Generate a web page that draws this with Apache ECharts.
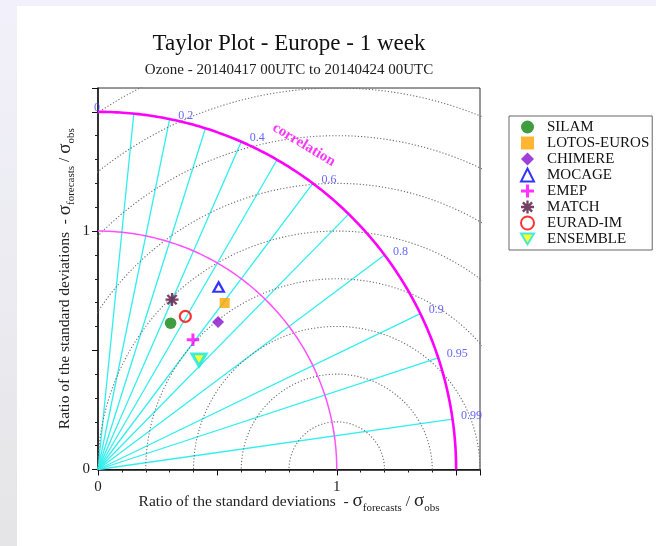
<!DOCTYPE html>
<html>
<head>
<meta charset="utf-8">
<script src="https://cdn.jsdelivr.net/npm/echarts@6/dist/echarts.min.js"></script>
<style>
  html, body { margin: 0; padding: 0; width: 656px; height: 546px; overflow: hidden;
    background: linear-gradient(to bottom, #f2f1fb, #e5e5e7); }
  #panel { position: absolute; left: 17px; top: 6px; right: 0; bottom: 0; background: #ffffff; }
  #chart { position: absolute; left: 0; top: 0; width: 656px; height: 546px; }
</style>
</head>
<body>
<div id="panel"></div>
<div id="chart"></div>
<script>
// Models shown in the diagram
const models = ['SILAM', 'LOTOS-EUROS', 'CHIMERE', 'MOCAGE', 'EMEP', 'MATCH', 'EURAD-IM', 'ENSEMBLE'];
// Ratio of standard deviations (sigma_forecast / sigma_obs) per model
const stdRatio = [0.685, 0.877, 0.797, 0.917, 0.674, 0.777, 0.739, 0.625];
// Correlation with observations per model
const correlation = [0.444, 0.605, 0.631, 0.551, 0.590, 0.399, 0.495, 0.677];

// Correlation rays and the labels written along the outer arc
const corrRays = [0.1, 0.2, 0.3, 0.4, 0.5, 0.6, 0.7, 0.8, 0.9, 0.95, 0.99];
const corrTickLabels = ['0.2', '0.4', '0.6', '0.8', '0.9', '0.95', '0.99'];
const corrZeroLabel = '0';
// Centred RMS difference circles (around the reference point 1,0)
const rmsRadii = [0.2, 0.4, 0.6, 0.8, 1.0, 1.2, 1.4, 1.6, 1.8];
// Std-ratio arcs around the origin
const refStd = 1.0;
const maxStd = 1.5;
// Axis labels shown
const axisTickLabels = ['0', '1'];

const SERIF = "'Liberation Serif', 'DejaVu Serif', 'Times New Roman', serif";

// polar (std ratio, correlation) -> cartesian
function toXY(s, c) {
  return [s * c, s * Math.sqrt(Math.max(0, 1 - c * c))];
}
function quarterArc(r, n) {
  const pts = [];
  for (let i = 0; i <= n; i++) {
    const t = (Math.PI / 2) * i / n;
    pts.push([r * Math.cos(t), r * Math.sin(t)]);
  }
  return pts;
}
function halfCircle(cx, r, n) {
  const pts = [];
  for (let i = 0; i <= n; i++) {
    const t = Math.PI * i / n;
    pts.push([cx + r * Math.cos(t), r * Math.sin(t)]);
  }
  return pts;
}

const series = [];

// correlation rays
corrRays.forEach(function (c) {
  series.push({
    type: 'line', silent: true, symbol: 'none', z: 1, clip: true,
    lineStyle: { color: '#33eeee', width: 1.3 },
    data: [[0, 0], toXY(maxStd, c)]
  });
});

// RMS difference circles
rmsRadii.forEach(function (r) {
  series.push({
    type: 'line', silent: true, symbol: 'none', z: 2, clip: true,
    lineStyle: { color: '#6e6e6e', width: 1.1, type: [1.2, 2] },
    data: halfCircle(1, r, 720)
  });
});

// std ratio arcs
series.push({
  type: 'line', silent: true, symbol: 'none', z: 3, clip: true,
  lineStyle: { color: '#ff50ff', width: 1.5 },
  data: quarterArc(refStd, 360)
});
series.push({
  type: 'line', silent: true, symbol: 'none', z: 3, clip: true,
  lineStyle: { color: '#ff00ff', width: 2.6 },
  data: quarterArc(maxStd, 360)
});

// correlation tick labels along the outer arc
const corrLabelData = corrTickLabels.map(function (t) {
  return { name: t, value: toXY(maxStd, parseFloat(t)) };
});
corrLabelData.push({
  name: corrZeroLabel, value: toXY(maxStd, parseFloat(corrZeroLabel)),
  label: { position: 'inside', offset: [-1, -4] }
});
series.push({
  type: 'scatter', silent: true, symbolSize: 1, z: 4,
  itemStyle: { color: 'rgba(0,0,0,0)' },
  label: {
    show: true, position: 'right', distance: 8, offset: [0, -3.5],
    formatter: '{b}', fontFamily: SERIF, fontSize: 12, color: '#4040ff'
  },
  data: corrLabelData
});

// "correlation" caption following the arc
series.push({
  type: 'scatter', silent: true, symbolSize: 1, z: 4,
  itemStyle: { color: 'rgba(0,0,0,0)' },
  label: {
    show: true, position: 'inside', rotate: -31, formatter: 'correlation',
    fontFamily: SERIF, fontSize: 15, fontWeight: 'bold', color: '#ff00ff'
  },
  data: [toXY(1.612, 0.535)]
});

// model markers
const PLUS = 'path://M-1.2,-5 L1.2,-5 L1.2,-1.2 L5,-1.2 L5,1.2 L1.2,1.2 L1.2,5 L-1.2,5 L-1.2,1.2 L-5,1.2 L-5,-1.2 L-1.2,-1.2 Z';
const STAR = 'path://M-5,-0.9 L5,-0.9 L5,0.9 L-5,0.9 Z M-0.9,-5 L0.9,-5 L0.9,5 L-0.9,5 Z ' +
  'M-2.9,-4.2 L4.2,2.9 L2.9,4.2 L-4.2,-2.9 Z M-4.2,2.9 L2.9,-4.2 L4.2,-2.9 L-2.9,4.2 Z';
const DOWN_TRI = 'path://M-6,-5 L6,-5 L0,5 Z';

const markerStyles = [
  { symbol: 'circle', size: 11.5, itemStyle: { color: '#0f850f' } },
  { symbol: 'rect', size: 10, itemStyle: { color: '#ffa500' } },
  { symbol: 'diamond', size: [12, 12], itemStyle: { color: '#8a10d0' } },
  { symbol: 'triangle', size: [10.5, 9.5], itemStyle: { color: 'rgba(255,255,255,0)', borderColor: '#0000ff', borderWidth: 2.2 } },
  { symbol: PLUS, size: 12.5, itemStyle: { color: '#ff00ff' } },
  { symbol: STAR, size: 13, itemStyle: { color: '#55103f' } },
  { symbol: 'circle', size: 11, itemStyle: { color: 'rgba(255,255,255,0)', borderColor: '#ff0000', borderWidth: 2.2 } },
  { symbol: DOWN_TRI, size: [14, 12], itemStyle: { color: '#ffff00', borderColor: '#10e6e6', borderWidth: 3 } }
];

models.forEach(function (m, i) {
  const st = markerStyles[i];
  series.push({
    name: m, type: 'scatter', z: 10,
    symbol: st.symbol, symbolSize: st.size, symbolKeepAspect: false,
    itemStyle: st.itemStyle,
    data: [toXY(stdRatio[i], correlation[i])]
  });
});

const axisNameRich = {
  t: { fontFamily: SERIF, fontSize: 15.5, color: '#222', lineHeight: 24 },
  s: { fontFamily: SERIF, fontSize: 19, color: '#222', lineHeight: 24 },
  b: { fontFamily: SERIF, fontSize: 11, color: '#222', lineHeight: 13, verticalAlign: 'bottom' }
};
const axisName = '{t|Ratio of the standard deviations  - }{s|σ}{b|forecasts}{t| / }{s|σ}{b|obs}';

function tickLabel(v) {
  const s = String(Math.round(v * 10) / 10);
  return axisTickLabels.indexOf(s) >= 0 ? s : '';
}

const chart = echarts.init(document.getElementById('chart'), null, { renderer: 'canvas' });
chart.setOption({
  animation: false,
  backgroundColor: 'transparent',
  title: {
    text: 'Taylor Plot - Europe - 1 week',
    subtext: 'Ozone - 20140417 00UTC to 20140424 00UTC',
    left: 289, top: 32, textAlign: 'center', padding: 0, itemGap: 8,
    textStyle: { fontFamily: SERIF, fontSize: 23, fontWeight: 'normal', color: '#111' },
    subtextStyle: { fontFamily: SERIF, fontSize: 15, color: '#222' }
  },
  legend: {
    orient: 'vertical', left: 509, top: 116,
    padding: [3, 3, 3, 11], itemGap: 0, itemWidth: 13, itemHeight: 13,
    borderColor: '#666', borderWidth: 1, backgroundColor: '#fff',
    textStyle: { fontFamily: SERIF, fontSize: 15, lineHeight: 16, color: '#111', padding: [0, 0, 0, 8] },
    data: models
  },
  grid: {
    left: 98, top: 88, width: 382, height: 381.5,
    show: true, borderColor: '#333', borderWidth: 1, backgroundColor: 'transparent'
  },
  xAxis: [
    {
      type: 'value', min: 0, max: 1.6, interval: 0.1, position: 'bottom',
      axisLine: { show: false },
      axisTick: { show: true, length: 3, lineStyle: { color: '#222' } },
      axisLabel: { show: false }, splitLine: { show: false }
    },
    {
      type: 'value', min: 0, max: 1.6, interval: 0.5, position: 'bottom',
      axisLine: { show: true, lineStyle: { color: '#111', width: 1.5 } },
      axisTick: { show: true, length: 6, lineStyle: { color: '#111' } },
      axisLabel: { formatter: tickLabel, fontFamily: SERIF, fontSize: 15, color: '#222', margin: 10 },
      splitLine: { show: false },
      name: axisName, nameLocation: 'middle', nameGap: 20, nameMoveOverlap: false,
      nameTextStyle: { rich: axisNameRich }
    }
  ],
  yAxis: [
    {
      type: 'value', min: 0, max: 1.6, interval: 0.1, position: 'left',
      axisLine: { show: false },
      axisTick: { show: true, length: 3, lineStyle: { color: '#222' } },
      axisLabel: { show: false }, splitLine: { show: false }
    },
    {
      type: 'value', min: 0, max: 1.6, interval: 0.5, position: 'left',
      axisLine: { show: true, lineStyle: { color: '#111', width: 1.5 } },
      axisTick: { show: true, length: 6, lineStyle: { color: '#111' } },
      axisLabel: { formatter: tickLabel, fontFamily: SERIF, fontSize: 15, color: '#222', margin: 8 },
      splitLine: { show: false },
      name: axisName, nameLocation: 'middle', nameGap: 21, nameRotate: 90, nameMoveOverlap: false,
      nameTextStyle: { rich: axisNameRich }
    }
  ],
  series: series
});
</script>
</body>
</html>
